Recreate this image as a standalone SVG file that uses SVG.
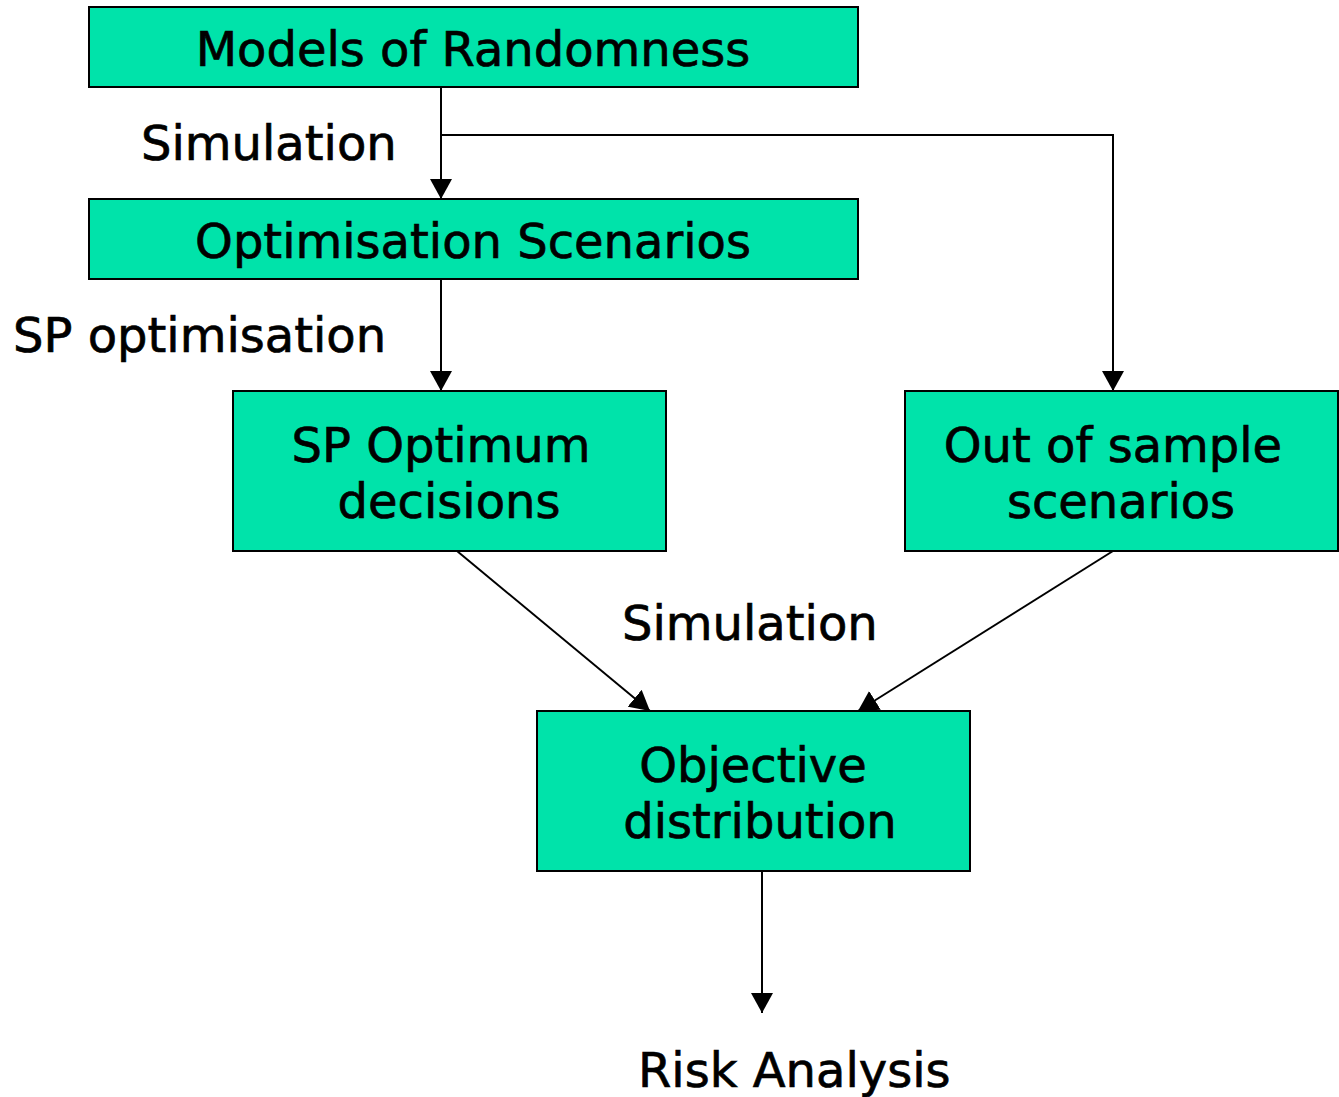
<svg xmlns="http://www.w3.org/2000/svg" width="1339" height="1097" viewBox="0 0 1339 1097">
<style>
.box{fill:#00E3AA;stroke:#000;stroke-width:2}
.t{font-family:"DejaVu Sans",sans-serif;font-size:48px;fill:#000;stroke:#000;stroke-width:0.7;text-anchor:middle}
.l{font-family:"DejaVu Sans",sans-serif;font-size:48px;fill:#000;stroke:#000;stroke-width:0.7}
.c{stroke:#000;stroke-width:2;fill:none;marker-end:url(#ah)}
</style>
<defs>
<marker id="ah" markerWidth="22" markerHeight="22" refX="20" refY="11" orient="auto" markerUnits="userSpaceOnUse" viewBox="0 0 22 22">
<path d="M0,0 L20,11 L0,22 Z" fill="#000"/>
</marker>
</defs>
<rect width="1339" height="1097" fill="#fff"/>
<g id="connectors">
<line class="c" x1="441" y1="87" x2="441" y2="199"/>
<polyline class="c" points="441,135 1113,135 1113,391"/>
<line class="c" x1="441" y1="279" x2="441" y2="391"/>
<line class="c" x1="457" y1="551" x2="650" y2="711"/>
<line class="c" x1="1113" y1="551" x2="858" y2="711"/>
<line class="c" x1="762" y1="871" x2="762" y2="1013"/>
</g>
<g id="models"><rect class="box" x="89" y="7" width="769" height="80"/><text class="t" x="473" y="66">Models of Randomness</text></g>
<g id="optscen"><rect class="box" x="89" y="199" width="769" height="80"/><text class="t" x="473" y="258">Optimisation Scenarios</text></g>
<g id="spopt"><rect class="box" x="233" y="391" width="433" height="160"/><text class="t" x="441" y="462">SP Optimum</text><text class="t" x="449" y="518">decisions</text></g>
<g id="oos"><rect class="box" x="905" y="391" width="433" height="160"/><text class="t" x="1113" y="462">Out of sample</text><text class="t" x="1121" y="518">scenarios</text></g>
<g id="objdist"><rect class="box" x="537" y="711" width="433" height="160"/><text class="t" x="753" y="782">Objective</text><text class="t" x="760" y="838">distribution</text></g>
<g id="labels">
<text class="l" x="141" y="160">Simulation</text>
<text class="l" x="13" y="352">SP optimisation</text>
<text class="l" x="622" y="640">Simulation</text>
<text class="l" x="638" y="1087">Risk Analysis</text>
</g>
</svg>
